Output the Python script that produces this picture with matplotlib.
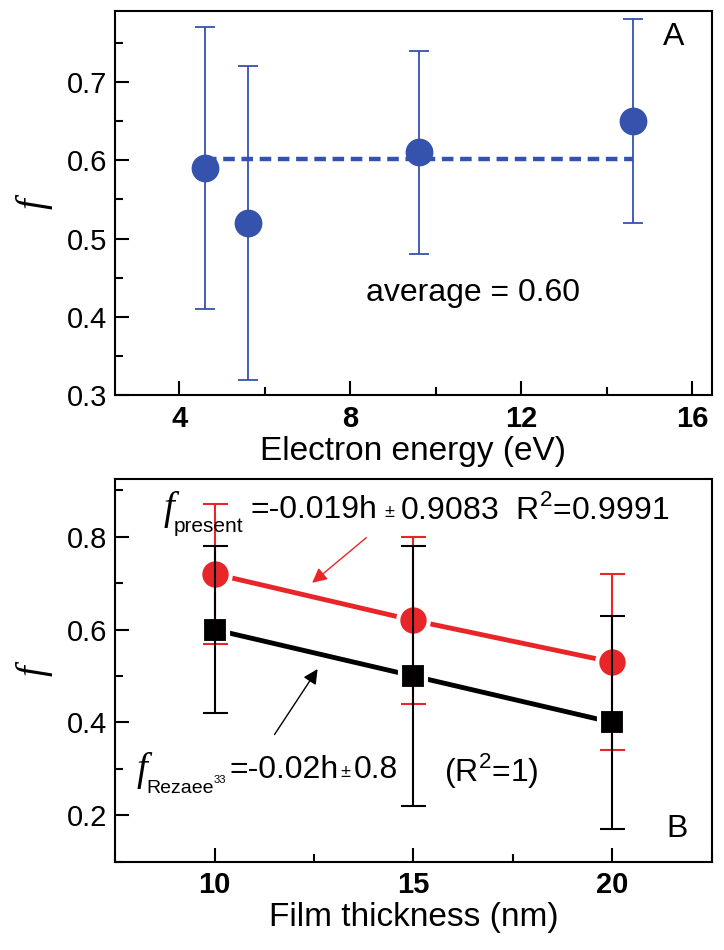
import matplotlib
matplotlib.use('Agg')
import matplotlib.pyplot as plt
from matplotlib.ticker import MultipleLocator

# panel A data
energy = [4.6, 5.6, 9.6, 14.6]
f_energy = [0.59, 0.52, 0.61, 0.65]
err_lo_a = [0.41, 0.32, 0.48, 0.52]
err_hi_a = [0.77, 0.72, 0.74, 0.78]
avg_x = [4.6, 14.6]
avg_val = 0.602

# panel B data
thickness = [10, 15, 20]
f_present = [0.72, 0.62, 0.53]
present_lo = [0.57, 0.44, 0.34]
present_hi = [0.87, 0.80, 0.72]
f_rezaee = [0.60, 0.50, 0.40]
rezaee_lo = [0.42, 0.22, 0.17]
rezaee_hi = [0.78, 0.78, 0.63]

SANS = ['Liberation Sans', 'DejaVu Sans']
plt.rcParams['font.family'] = SANS
plt.rcParams['mathtext.fontset'] = 'custom'
plt.rcParams['mathtext.rm'] = 'Liberation Sans'
plt.rcParams['axes.linewidth'] = 1.5

blue = '#3552ad'
red = '#e8262a'

fig = plt.figure(figsize=(7.24, 9.5), dpi=100)
ax1 = fig.add_axes([0.159, 0.584, 0.824, 0.404])
ax2 = fig.add_axes([0.159, 0.093, 0.824, 0.403])


def yerr(vals, lo, hi):
    return [[v - l for v, l in zip(vals, lo)], [h - v for v, h in zip(vals, hi)]]


def style(ax):
    ax.tick_params(which='both', direction='in', top=False, right=False, width=1.5)
    ax.tick_params(which='major', length=10)
    ax.tick_params(which='minor', length=6)
    ax.tick_params(axis='x', pad=7)
    ax.tick_params(axis='y', pad=6)
    for lab in ax.get_xticklabels():
        lab.set_fontweight('bold')
        lab.set_fontsize(21)
    for lab in ax.get_yticklabels():
        lab.set_fontsize(21)
    ax.set_ylabel('f', family='Liberation Serif', style='italic', fontsize=28, labelpad=10)


# ---- panel A ----
ax1.plot(avg_x, [avg_val, avg_val], color=blue, lw=3.2, ls=(0, (2.6, 1.5)), zorder=1)
ax1.errorbar(energy, f_energy, yerr=yerr(f_energy, err_lo_a, err_hi_a), fmt='o', color=blue,
             ms=19, ecolor=blue, elinewidth=1.3, capsize=7, capthick=1.3, zorder=2)
ax1.set_xlim(2.5, 16.45)
ax1.set_ylim(0.3, 0.79)
ax1.xaxis.set_major_locator(MultipleLocator(4))
ax1.xaxis.set_minor_locator(MultipleLocator(2))
ax1.set_yticks([0.3, 0.4, 0.5, 0.6, 0.7])
ax1.set_yticklabels(['0.3', '0.4', '0.5', '0.6', '0.7'])
ax1.yaxis.set_minor_locator(MultipleLocator(0.05))
style(ax1)
ax1.set_xlabel('Electron energy (eV)', fontsize=24, labelpad=2)
ax1.text(10.86, 0.43, 'average = 0.60', fontsize=23, ha='center', va='center')
ax1.text(15.55, 0.757, 'A', fontsize=23, ha='center', va='center')

# ---- panel B ----
ax2.plot(thickness, f_present, color=red, lw=3.5, marker='o', ms=22, mec='white', mew=3, zorder=2)
ax2.plot(thickness, f_rezaee, color='black', lw=3.5, marker='s', ms=19, mec='white', mew=3, zorder=3)
ax2.errorbar(thickness, f_present, yerr=yerr(f_present, present_lo, present_hi), fmt='none',
             ecolor=red, elinewidth=1.5, capsize=9, capthick=1.5, zorder=4)
ax2.errorbar(thickness, f_rezaee, yerr=yerr(f_rezaee, rezaee_lo, rezaee_hi), fmt='none',
             ecolor='black', elinewidth=1.5, capsize=9, capthick=1.5, zorder=5)
ax2.set_xlim(7.5, 22.5)
ax2.set_ylim(0.1, 0.925)
ax2.xaxis.set_major_locator(MultipleLocator(5))
ax2.xaxis.set_minor_locator(MultipleLocator(2.5))
ax2.set_yticks([0.2, 0.4, 0.6, 0.8])
ax2.set_yticklabels(['0.2', '0.4', '0.6', '0.8'])
ax2.yaxis.set_minor_locator(MultipleLocator(0.1))
style(ax2)
ax2.set_xlabel('Film thickness (nm)', fontsize=24, labelpad=2)

# fit equation for present work
ax2.text(8.72, 0.858, 'f', family='Liberation Serif', style='italic', fontsize=28,
         ha='left', va='center', zorder=6)
ax2.text(8.98, 0.823, 'present', fontsize=15, ha='left', va='center', zorder=6)
ax2.text(10.9, 0.858, '=-0.019h', fontsize=23, ha='left', va='center', zorder=6)
ax2.text(14.4, 0.853, '±', fontsize=13, ha='center', va='center', zorder=6)
ax2.text(14.66, 0.858, r'0.9083  R$^2$=0.9991', fontsize=23, ha='left', va='center', zorder=6)

# fit equation from Rezaee
ax2.text(8.05, 0.297, 'f', family='Liberation Serif', style='italic', fontsize=28,
         ha='left', va='center', zorder=6)
ax2.text(8.28, 0.257, 'Rezaee', fontsize=14, ha='left', va='center', zorder=6)
ax2.text(9.98, 0.276, '33', fontsize=8, ha='left', va='center', zorder=6)
ax2.text(10.38, 0.297, '=-0.02h', fontsize=23, ha='left', va='center', zorder=6)
ax2.text(13.28, 0.292, '±', fontsize=13, ha='center', va='center', zorder=6)
ax2.text(13.5, 0.297, '0.8', fontsize=23, ha='left', va='center', zorder=6)
ax2.text(15.77, 0.297, r'(R$^2$=1)', fontsize=23, ha='left', va='center', zorder=6)
ax2.text(21.62, 0.171, 'B', fontsize=23, ha='center', va='center')

ax2.annotate('', xy=(12.4, 0.697), xytext=(13.87, 0.802),
             arrowprops=dict(arrowstyle='-|>', color=red, lw=1.0, mutation_scale=22))
ax2.annotate('', xy=(12.63, 0.52), xytext=(11.47, 0.369),
             arrowprops=dict(arrowstyle='-|>', color='black', lw=1.0, mutation_scale=22))

fig.savefig('out.png', dpi=100)
